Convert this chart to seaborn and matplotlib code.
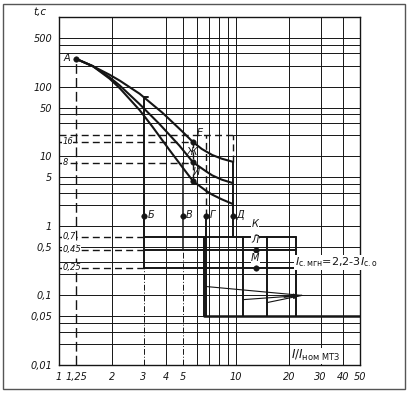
import matplotlib
matplotlib.use("Agg")
import matplotlib.pyplot as plt
from matplotlib.patches import Rectangle
import seaborn as sns
import pandas as pd

# ---- data ----
curve_top_x = [1.25, 1.55, 1.93, 2.2, 2.85, 3.84, 4.97, 5.7, 6.4, 7.33, 8.3, 9.6]
curve_top_t = [250, 197, 148, 122, 79, 42, 22.6, 16, 12.7, 10.4, 9.2, 8.3]
curve_mid_x = [1.25, 1.55, 1.93, 2.2, 2.85, 3.69, 4.78, 5.7, 6.8, 7.33, 8.3, 9.6]
curve_mid_t = [250, 197, 136, 104, 56, 29, 14.2, 8.2, 6.0, 5.3, 4.6, 4.1]
curve_bot_x = [1.25, 1.55, 1.93, 2.2, 2.85, 3.37, 4.2, 4.9, 5.7, 6.8, 7.33, 8.3, 9.6]
curve_bot_t = [250, 197, 130, 95, 46, 26.5, 12.3, 7.3, 4.4, 3.15, 2.8, 2.4, 2.05]

point_names = ["А", "Е", "Ж", "И", "Б", "В", "Г", "Д", "К", "Л", "М"]
point_x = [1.25, 5.7, 5.7, 5.7, 3, 5, 6.8, 9.6, 13, 13, 13]
point_t = [250, 16, 8.2, 4.4, 1.4, 1.4, 1.4, 1.4, 0.7, 0.45, 0.25]

y_tick_vals = [500, 100, 50, 10, 5, 1, 0.5, 0.1, 0.05, 0.01]
y_tick_labels = ["500", "100", "50", "10", "5", "1", "0,5", "0,1", "0,05", "0,01"]
x_tick_vals = [1, 1.25, 2, 3, 4, 5, 10, 20, 30, 40, 50]
x_tick_labels = ["1", "1,25", "2", "3", "4", "5", "10", "20", "30", "40", "50"]

x_grid = [2, 4, 6, 7, 8, 9, 10, 20, 30, 40]
y_grid = [0.02, 0.03, 0.04, 0.05, 0.1, 0.2, 0.3, 0.5, 1, 2, 3, 4, 5, 10,
          30, 40, 50, 100, 200, 300, 400, 500]

dash_levels = [16, 8, 0.7, 0.45, 0.25]
dash_labels = ["16", "8", "0,7", "0,45", "0,25"]
dash_ends = [5.7, 5.7, 3, 3, 3]

step_levels = [0.7, 0.45, 0.25]       # К, Л, М
rect_x = [11, 15, 21.7]               # verticals of the step zone
arrow_from_x = [6.8, 11, 15]
arrow_from_t = [0.134, 0.087, 0.079]
arrow_tip = (23.5, 0.1)

# ---- figure ----
sns.set_style("white")
plt.rcParams["font.family"] = ["DejaVu Sans"]
ink = "#151515"

fig = plt.figure(figsize=(4.12, 3.94), dpi=100)
ax = fig.add_axes([59 / 412, 1 - 365 / 394, (360 - 59) / 412, (365 - 17) / 394])
ax.set_xscale("log")
ax.set_yscale("log")
ax.set_xlim(1, 50)
ax.set_ylim(0.01, 1000)

dashdot = (0, (6, 2, 1, 2))
# grid
for gx in x_grid:
    ax.axvline(gx, color=ink, lw=0.7, zorder=1)
ax.plot([3, 3], [0.01, 0.25], color=ink, lw=0.7, ls=dashdot, zorder=1)
ax.plot([5, 5], [0.01, 0.45], color=ink, lw=0.7, ls=dashdot, zorder=1)
ax.plot([5, 5], [8, 1000], color=ink, lw=0.7, zorder=1)
for gy in y_grid:
    ax.axhline(gy, color=ink, lw=0.7, zorder=1)
ax.plot([9.6, 50], [20, 20], color=ink, lw=0.7, zorder=1)

# curves
df = pd.DataFrame({
    "I": curve_top_x + curve_mid_x + curve_bot_x,
    "t": curve_top_t + curve_mid_t + curve_bot_t,
    "curve": ["АЕ"] * len(curve_top_x) + ["АЖ"] * len(curve_mid_x) + ["АИ"] * len(curve_bot_x),
})
sns.lineplot(data=df, x="I", y="t", units="curve", estimator=None, sort=False,
             color=ink, lw=1.5, ax=ax, zorder=4)

dash = (0, (5, 3))
lwd = 1.0
# dashed construction lines
ax.plot([1.25, 1.25], [0.01, 250], color=ink, lw=lwd, ls=(0, (7, 3)), zorder=3)
ax.plot([1, 9.6], [20, 20], color=ink, lw=lwd, ls=dash, zorder=3)
ax.plot([6.8, 6.8], [1.4, 20], color=ink, lw=lwd, ls=dash, zorder=3)
ax.plot([9.6, 9.6], [8.3, 20], color=ink, lw=lwd, ls=dash, zorder=3)
ax.plot([5.7, 5.7], [4.4, 16], color=ink, lw=lwd, ls=dash, zorder=3)
for lv, xe in zip(dash_levels, dash_ends):
    ax.plot([1, xe], [lv, lv], color=ink, lw=lwd, ls=dash, zorder=3)

# solid characteristic lines
lws = 1.4
ax.plot([3, 3], [0.25, 70], color=ink, lw=lws, zorder=3)
ax.plot([3, 3.2], [70, 70], color=ink, lw=lws, zorder=3)
ax.plot([5, 5], [0.45, 8], color=ink, lw=1.1, zorder=3)
ax.plot([6.8, 6.8], [0.05, 1.4], color=ink, lw=lws, zorder=3)
ax.plot([6.6, 6.6], [0.05, 0.7], color=ink, lw=lws, zorder=3)
ax.plot([9.6, 9.6], [0.7, 8.3], color=ink, lw=lws, zorder=3)
for lv in step_levels:
    ax.plot([3, 21.7], [lv, lv], color=ink, lw=lws, zorder=3)
for rx in rect_x:
    ax.plot([rx, rx], [0.05, 0.7], color=ink, lw=lws, zorder=3)
ax.plot([6.6, 50], [0.05, 0.05], color=ink, lw=1.8, zorder=3)

# arrow lines
for fx, ft in zip(arrow_from_x, arrow_from_t):
    ax.plot([fx, arrow_tip[0]], [ft, arrow_tip[1]], color=ink, lw=0.8, zorder=3)
ax.annotate("", xy=arrow_tip, xytext=(18, 0.093),
            arrowprops=dict(arrowstyle="-|>", color=ink, lw=0.8, mutation_scale=8))

# points
pts = pd.DataFrame({"I": point_x, "t": point_t, "name": point_names})
sns.scatterplot(data=pts, x="I", y="t", color=ink, s=16, edgecolor=ink,
                ax=ax, zorder=6, legend=False)

fs = 7
lbl = dict(fontsize=fs, style="italic", color=ink, zorder=7)
ax.text(1.11, 256, "А", ha="center", va="center", **lbl)
ax.text(6.2, 21.6, "Е", ha="center", va="center", **lbl)
ax.text(5.6, 11.6, "Ж", ha="center", va="center", **lbl)
ax.text(5.95, 5.9, "И", ha="center", va="center", **lbl)
for nm, xx in zip(["Б", "В", "Г", "Д"], [3.3, 5.4, 7.35, 10.6]):
    ax.text(xx, 1.42, nm, ha="center", va="center", **lbl)
for nm, tt in zip(["К", "Л", "М"], [1.06, 0.62, 0.34]):
    ax.text(12.8, tt, nm, ha="center", va="center",
            bbox=dict(fc="white", ec="none", pad=0.3), **lbl)

for lv, lab in zip(dash_levels, dash_labels):
    ax.text(1.045, lv, lab, ha="left", va="center", fontsize=6, style="italic",
            color=ink, zorder=7, bbox=dict(fc="white", ec="none", pad=0.2))

ax.text(21.5, 0.3, r"$I_{\mathrm{с.мгн}}$=2,2-3$I_{\mathrm{с.о}}$", ha="left",
        va="center", fontsize=8, color=ink, zorder=7,
        bbox=dict(fc="white", ec="none", pad=0.5))
ax.text(20.5, 0.0135, r"$I/I_{\mathrm{ном\ МТЗ}}$", ha="left", va="center",
        fontsize=8.5, color=ink, zorder=7,
        bbox=dict(fc="white", ec="none", pad=0.5))

# axes, ticks
ax.set_xticks(x_tick_vals)
ax.set_xticklabels(x_tick_labels, fontsize=7, style="italic", color=ink)
ax.set_yticks(y_tick_vals)
ax.set_yticklabels(y_tick_labels, fontsize=7, style="italic", color=ink)
ax.minorticks_off()
ax.tick_params(axis="x", length=0, pad=5)
ax.tick_params(axis="y", length=3, width=0.8, color=ink, pad=2)
ax.set_xlabel("")
ax.set_ylabel("")
for sp in ax.spines.values():
    sp.set_color(ink)
    sp.set_linewidth(1.0)
ax.text(-0.065, 1.015, "t,c", transform=ax.transAxes, fontsize=7.5,
        style="italic", ha="center", va="center", color=ink)

# outer frame
fig.patches.append(Rectangle((3 / 412, 1 - 389 / 394), 402 / 412, 385 / 394,
                             transform=fig.transFigure, fill=False,
                             ec="#555555", lw=1.0))

fig.savefig("out.png", dpi=100, facecolor="white")
